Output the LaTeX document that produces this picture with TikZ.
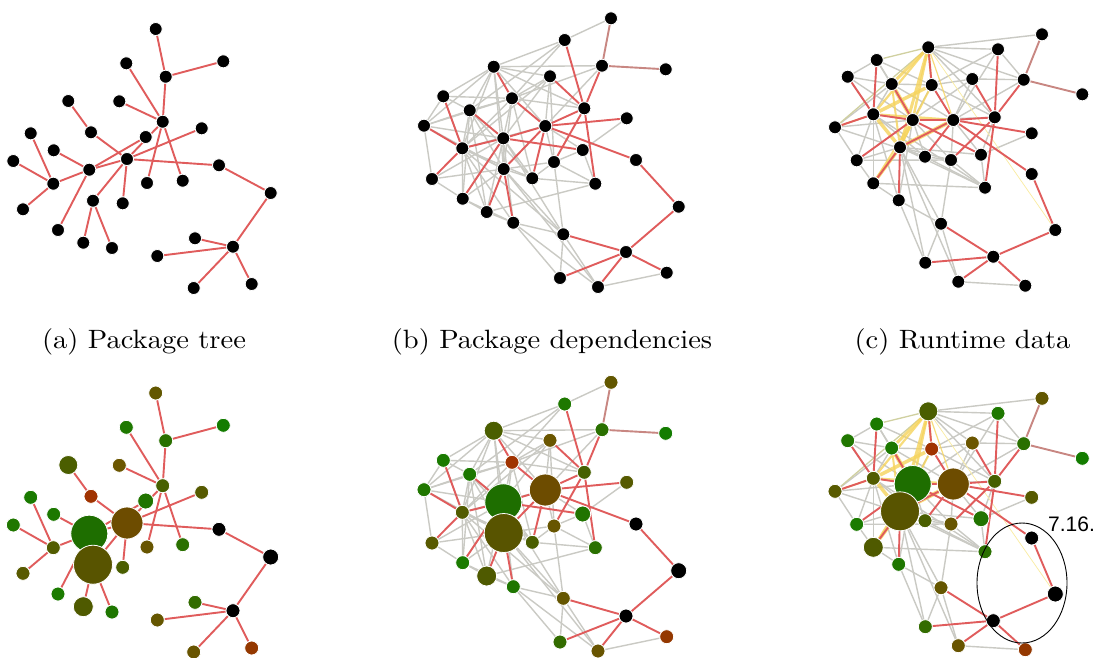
\documentclass[tikz,border=0pt]{standalone}
\usepackage{fontspec}
\usepackage{graphicx}
\newfontfamily\labelfont{Liberation Sans}
\usetikzlibrary{backgrounds,shapes.geometric}

\definecolor{redE}{RGB}{224,92,92}
\definecolor{roseE}{RGB}{200,135,130}
\definecolor{grayE}{RGB}{202,202,196}
\definecolor{yelE}{RGB}{246,212,92}
\definecolor{oliveE}{RGB}{208,208,160}
\definecolor{paleY}{RGB}{250,236,160}

\definecolor{tc1}{HTML}{625700}
\definecolor{tc2}{HTML}{2A7000}
\definecolor{tc3}{HTML}{137C00}
\definecolor{tc4}{HTML}{1E7800}
\definecolor{tc5}{HTML}{466000}
\definecolor{tc6}{HTML}{6B5600}
\definecolor{tc7}{HTML}{4B5E00}
\definecolor{tc8}{HTML}{A03300}
\definecolor{tc9}{HTML}{217400}
\definecolor{tc10}{HTML}{565A00}
\definecolor{tc11}{HTML}{6D4C00}
\definecolor{tc12}{HTML}{1E6E00}
\definecolor{tc13}{HTML}{1C7800}
\definecolor{tc14}{HTML}{1A7A00}
\definecolor{tc15}{HTML}{207700}
\definecolor{tc16}{HTML}{525C00}
\definecolor{tc17}{HTML}{585A00}
\definecolor{tc18}{HTML}{675500}
\definecolor{tc19}{HTML}{2A7000}
\definecolor{tc20}{HTML}{000000}
\definecolor{tc21}{HTML}{000000}
\definecolor{tc22}{HTML}{585400}
\definecolor{tc23}{HTML}{4A5E00}
\definecolor{tc24}{HTML}{1B7B00}
\definecolor{tc25}{HTML}{4F5A00}
\definecolor{tc26}{HTML}{1E7600}
\definecolor{tc27}{HTML}{336C00}
\definecolor{tc28}{HTML}{000000}
\definecolor{tc29}{HTML}{655600}
\definecolor{tc30}{HTML}{685400}
\definecolor{tc31}{HTML}{943800}

\def\radarr{{7,7,7,7,7,7,9.5,7,8,7,16,18.5,7,7,7,7,7,7,7,7,8,19.5,7,7,10,7,7,7,7,7,7}}

\def\listA{1/1/155.7/29, 2/2/165.7/76.7, 3/3/223.3/61.3, 4/4/126.3/63.3, 5/5/162.7/121.7, 6/6/119.3/101.3, 7/7/68.3/101, 8/8/91/132.3, 9/9/145.7/137, 10/10/201.7/128.3, 11/11/127/159, 12/12/89.3/169.7, 13/13/53.7/150.3, 14/14/30.7/133.3, 15/15/13.3/161, 16/16/53.3/183.7, 17/17/23/209.3, 18/18/147/183, 19/19/182.7/180.7, 20/20/219/165.3, 21/21/270.7/193, 22/22/93/200.7, 23/23/122.7/203.3, 24/24/58/230, 25/25/83.3/242.7, 26/26/112/248, 27/27/195/238.3, 28/28/233/246.7, 29/29/157.3/256, 30/30/193.7/288, 31/31/251.7/284}

\def\listB{1/1/611/18.3, 2/4/564.7/40, 3/2/602/65.7, 4/3/665.7/69.3, 5/7/493.7/66.7, 6/6/550/76.3, 7/14/443.3/96.3, 8/8/512/98.3, 9/5/584.3/108.3, 10/13/469.7/110.3, 11/10/626.7/118.3, 12/15/424/125.7, 13/11/545.3/126, 14/12/503.3/138.3, 15/16/462.3/148.3, 16/9/582.7/150, 17/20/636/160, 18/18/554/162, 19/22/503.7/169, 20/17/432/179, 21/23/532.3/178.3, 22/19/595.3/183.7, 23/24/462.7/198.7, 24/21/678.7/206.7, 25/25/486.7/212, 26/26/513.3/222.7, 27/29/563.3/234.3, 28/28/626/252, 29/27/560/278, 30/30/598/287, 31/31/666.7/272.7}

\def\listC{1/1/1042/34.3, 2/7/928.3/47.3, 3/4/998/49.3, 4/14/876.7/60, 5/15/847.7/76.7, 6/13/891.7/84, 7/8/931.7/85, 8/6/972.3/79, 9/2/1023.7/79.7, 10/3/1082.3/94.3, 11/16/873.3/114.3, 12/12/912.7/120, 13/11/953.3/120, 14/5/994.7/117.3, 15/17/835/127.3, 16/10/1031.7/133.3, 17/22/900/147.3, 18/23/925/156.7, 19/18/951/160, 20/9/981/154.7, 21/24/856.7/160.3, 22/20/1031.7/174, 23/25/873.3/183.3, 24/19/985/187.7, 25/26/898.7/200.3, 26/29/941/223.7, 27/21/1055.3/230, 28/28/993.3/256.7, 29/27/925.3/262.7, 30/30/958.3/281.7, 31/31/1025.3/285.7}

\newcommand\makepanel[4]{%
  \foreach \i/\t/\x/\y in #2 {%
    \ifnum#4=1
      \pgfmathsetmacro\rr{\radarr[\t-1]}%
      \node[dotnode, fill=tc\t, minimum size=2*\rr pt] (#1\i) at (\x,\y+#3) {};
    \else
      \node[dotnode, fill=black, minimum size=13pt] (#1\i) at (\x,\y+#3) {};
    \fi
  }%
}

\tikzset{
  dotnode/.style={circle, inner sep=0pt, draw=white, line width=0.8pt},
  gedge/.style={draw=grayE, line width=1.4pt},
  redge/.style={draw=redE, line width=1.9pt},
  rosedge/.style={draw=roseE, line width=1.9pt},
  oedge/.style={draw=oliveE, line width=1.3pt},
  yedge/.style={draw=yelE, opacity=0.8},
  capt/.style={anchor=base, inner sep=0pt}
}

\begin{document}
\begin{tikzpicture}[x=1pt,y=-1pt]
\path[use as bounding box] (0,0) rectangle (1106,657);

\makepanel{a}{\listA}{0}{0}
\makepanel{d}{\listA}{364}{1}
\makepanel{b}{\listB}{0}{0}
\makepanel{e}{\listB}{364}{1}
\makepanel{c}{\listC}{0}{0}
\makepanel{f}{\listC}{364}{1}

\begin{scope}[on background layer]
\fill[white] (0,0) rectangle (1106,657);
% gray dependency edges, panels b and e
\foreach \p in {b,e}{
  \foreach \u/\v in {1/2, 2/5, 3/5, 2/8, 2/10, 3/8, 3/13, 5/7, 5/10, 5/12, 5/14, 5/15, 5/19, 5/13, 5/9, 5/6, 7/12, 10/12, 12/14, 7/10, 7/8, 7/15, 8/10, 10/15, 10/19, 10/23, 10/25, 8/14, 8/19, 8/21, 6/8, 8/9, 8/15, 6/14, 6/18, 6/13, 6/15, 13/18, 13/16, 14/15, 14/19, 14/21, 14/25, 14/26, 14/23, 15/19, 15/21, 15/23, 15/25, 15/26, 15/13, 19/21, 19/23, 19/27, 19/30, 19/18, 20/19, 20/14, 21/22, 21/18, 18/27, 18/22, 18/16, 22/16, 25/22, 16/11, 26/27, 26/29, 25/26, 27/29, 27/30, 30/31, 15/27, 14/27, 23/26, 23/25, 26/30, 12/20, 12/8, 12/19, 20/23, 10/14, 10/21}
    \draw[gedge] (\p\u) -- (\p\v);
}
% gray edges, panels c and f
\foreach \p in {c,f}{
  \foreach \u/\v in {1/2, 2/3, 2/8, 2/9, 2/14, 4/5, 4/6, 4/7, 5/6, 5/12, 15/12, 15/18, 6/7, 6/11, 7/8, 7/12, 7/14, 8/9, 8/12, 8/13, 3/9, 9/13, 3/13, 11/21, 11/23, 11/18, 12/18, 12/19, 13/19, 13/20, 14/20, 17/18, 17/19, 17/21, 17/26, 17/29, 17/30, 18/19, 19/24, 19/26, 20/24, 21/23, 23/24, 23/25, 25/29, 25/26, 26/29, 26/30, 30/31, 21/19, 11/24, 17/24, 15/6, 5/11, 3/7, 4/12, 15/21, 11/25, 12/25, 17/20, 18/24, 6/13, 12/14, 16/20}
    \draw[gedge] (\p\u) -- (\p\v);
  \foreach \u/\v in {15/2, 4/2}
    \draw[oedge] (\p\u) -- (\p\v);
  \draw[draw=paleY, line width=0.7pt] (\p2) -- (\p27);
  \foreach \u/\v/\w in {2/6/3, 2/11/2.2, 2/12/2.5, 2/17/3, 2/13/1.2, 2/7/2, 6/12/4, 7/11/3.5, 11/17/3.5, 12/17/2.5, 13/17/4, 17/23/3.5, 12/23/1.8, 15/11/1.8, 7/17/2, 6/17/2, 11/13/2.5}
    \draw[yedge, line width=\w pt] (\p\u) -- (\p\v);
}
% tree edges
\foreach \p in {a,d}{
  \foreach \u/\v in {1/2, 2/3, 2/5, 4/5, 6/5, 5/18, 5/19, 5/11, 9/12, 11/10, 11/20, 11/12, 11/22, 11/23, 8/11, 7/8, 13/12, 12/16, 16/14, 16/15, 16/17, 12/24, 22/25, 22/26, 20/21, 21/28, 28/27, 28/29, 28/30, 28/31}
    \draw[redge] (\p\u) -- (\p\v);
}
\foreach \p in {b,e}{
  \foreach \u/\v in {3/9, 2/9, 6/9, 9/18, 9/22, 9/13, 16/14, 13/11, 13/17, 13/14, 13/19, 13/21, 8/13, 5/8, 10/14, 14/15, 15/7, 15/12, 15/20, 14/23, 19/25, 19/26, 17/24, 24/28, 28/29, 28/27, 28/30, 28/31}
    \draw[redge] (\p\u) -- (\p\v);
  \foreach \u/\v in {1/3, 3/4}
    \draw[rosedge] (\p\u) -- (\p\v);
}
\foreach \p in {c,f}{
  \foreach \u/\v in {9/14, 3/14, 8/14, 14/19, 14/24, 14/13, 20/12, 13/16, 13/22, 13/12, 13/17, 13/18, 7/13, 2/7, 6/12, 12/11, 11/4, 11/5, 11/15, 12/21, 17/23, 17/25, 22/27, 27/28, 28/29, 28/26, 28/30, 28/31}
    \draw[redge] (\p\u) -- (\p\v);
  \foreach \u/\v in {1/9, 9/10}
    \draw[rosedge] (\p\u) -- (\p\v);
}
\end{scope}

% captions
\node[capt] (capa) at (144,348) {\scalebox{2.85}[2.65]{(a) Package tree}};
\node[capt] (capb) at (552,348) {\scalebox{2.85}[2.65]{(b) Package dependencies}};
\node[capt] (capc) at (962.5,348) {\scalebox{2.85}[2.65]{(c) Runtime data}};

% highlight
\node[draw=black, ellipse, line width=0.9pt, minimum width=90pt, minimum height=120pt, inner sep=0pt] (ring) at (1022,583) {};
\node[anchor=base west, inner sep=0pt, font=\labelfont\fontsize{21}{24}\selectfont] (lbl) at (1048,531) {7.16.};
\end{tikzpicture}
\end{document}
